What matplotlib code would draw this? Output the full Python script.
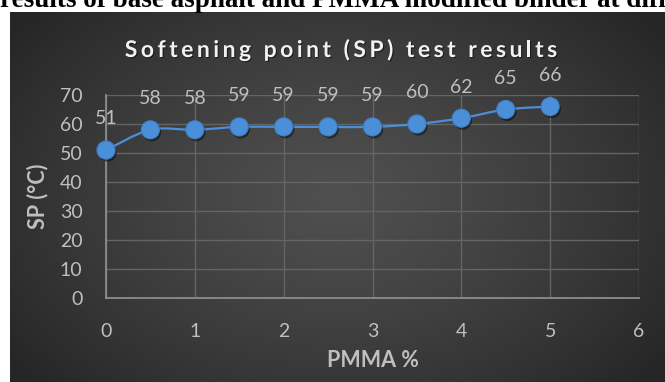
import numpy as np
import matplotlib
matplotlib.use("Agg")
import matplotlib.pyplot as plt
import matplotlib.patheffects as pe
from matplotlib.path import Path
from matplotlib.patches import PathPatch
from matplotlib import font_manager
from matplotlib.ft2font import FT2Font

# PMMA content (%) and softening point (°C)
pmma = [0, 0.5, 1, 1.5, 2, 2.5, 3, 3.5, 4, 4.5, 5]
sp = [51, 58, 58, 59, 59, 59, 59, 60, 62, 65, 66]
x_ticks = [0, 1, 2, 3, 4, 5, 6]
y_ticks = [0, 10, 20, 30, 40, 50, 60, 70]
title = "Softening point (SP) test results"
heading = "results of base asphalt and PMMA modified binder at different"

W, H, DPI = 665, 382, 100
fig = plt.figure(figsize=(W / DPI, H / DPI), dpi=DPI, facecolor="white")

FONT = "Lato"
GREY = "#bfbfbf"
BLUE = "#4a8fd8"

# caption line above the chart panel (partly outside the page)
fig.text(0 / W, 1 - 7 / H, heading, family="Liberation Serif", weight="bold",
         fontsize=19.5, color="black", ha="left", va="baseline")

# dark panel with a soft radial gradient
bg = fig.add_axes([10 / W, 0, (W - 10) / W, (H - 12) / H])
bg.set_axis_off()
ny, nx = 200, 360
yy, xx = np.mgrid[0:ny, 0:nx]
r = np.sqrt(((xx / (nx - 1) - 0.5) / 0.62) ** 2 + ((yy / (ny - 1) - 0.5) / 0.75) ** 2)
r = np.clip(r, 0, 1)
center_c, edge_c = 0.31, 0.15
shade = center_c + (edge_c - center_c) * r ** 1.3
bg.imshow(np.dstack([shade] * 3), aspect="auto", extent=[0, 1, 0, 1], interpolation="bilinear")
bg.set_xlim(0, 1)
bg.set_ylim(0, 1)

# plotting area
ax = fig.add_axes([106 / W, (H - 298) / H, (639 - 106) / W, (298 - 95) / H])
ax.patch.set_alpha(0)
ax.set_xlim(x_ticks[0], x_ticks[-1])
ax.set_ylim(y_ticks[0], y_ticks[-1])
ax.set_xticks(x_ticks)
ax.set_yticks(y_ticks)
ax.grid(True, color="#646464", lw=1.0)
ax.set_axisbelow(True)
for s in ["top", "right"]:
    ax.spines[s].set_visible(False)
for s in ["left", "bottom"]:
    ax.spines[s].set_color("#8c8c8c")
    ax.spines[s].set_linewidth(1.3)
ax.tick_params(length=0, colors=GREY, labelsize=14)
ax.tick_params(axis="x", pad=18)
ax.tick_params(axis="y", pad=17)
for lab in ax.get_xticklabels() + ax.get_yticklabels():
    lab.set_family(FONT)

# smoothed connecting line (Catmull-Rom style Bezier through the points)
P = np.column_stack([pmma, sp]).astype(float)
verts = [tuple(P[0])]
codes = [Path.MOVETO]
n = len(P)
for i in range(n - 1):
    p0 = P[i - 1] if i > 0 else P[i]
    p1, p2 = P[i], P[i + 1]
    p3 = P[i + 2] if i + 2 < n else P[i + 1]
    c1 = p1 + (p2 - p0) / 6.0
    c2 = p2 - (p3 - p1) / 6.0
    verts += [tuple(c1), tuple(c2), tuple(p2)]
    codes += [Path.CURVE4] * 3
ax.add_patch(PathPatch(Path(verts, codes), facecolor="none", edgecolor=BLUE, lw=1.6,
                       zorder=3, capstyle="round", joinstyle="round"))

mk, = ax.plot(pmma, sp, ls="none", marker="o", ms=13, mfc=BLUE, mec="#3f80c8",
              mew=0.8, zorder=4, clip_on=False)
mk.set_path_effects([pe.SimplePatchShadow(offset=(1.2, -1.8), shadow_rgbFace="black", alpha=0.45),
                     pe.Normal()])

for xv, yv in zip(pmma, sp):
    ax.annotate(f"{yv}", (xv, yv), xytext=(0, 18.5), textcoords="offset points",
                ha="center", va="baseline", fontsize=14, color=GREY, family=FONT)

ax.set_xlabel("PMMA %", family=FONT, weight="bold", fontsize=15.5, color=GREY)
ax.xaxis.set_label_coords((373 - 106) / (639 - 106), -(367 - 298) / (298 - 95))
ax.xaxis.label.set_va("baseline")
ax.set_ylabel("SP (°C)", family=FONT, weight="bold", fontsize=15.5, color=GREY)
ax.yaxis.set_label_coords(-(106 - 38) / (639 - 106), 0.5)
ax.yaxis.label.set_va("center")


# title with widened letter spacing, placed glyph by glyph
def tracked_text(s, cx, baseline, size, spacing_px, **kw):
    prop = font_manager.FontProperties(family=FONT, weight="bold", size=size)
    font = FT2Font(font_manager.findfont(prop))
    font.set_size(size, DPI)
    adv = []
    for ch in s:
        g = font.load_char(ord(ch))
        adv.append(g.linearHoriAdvance / 65536.0)
    total = sum(adv) + spacing_px * (len(s) - 1)
    x = cx - total / 2.0
    for ch, a in zip(s, adv):
        if ch != " ":
            t = fig.text(x / W, 1 - baseline / H, ch, fontproperties=prop,
                         ha="left", va="baseline", **kw)
            t.set_path_effects([pe.withSimplePatchShadow(offset=(0.8, -0.8), shadow_rgbFace="black",
                                                         alpha=0.5)])
        x += a + spacing_px


tracked_text(title, 341, 57, 16.5, 3.5, color="#f2f2f2")

fig.savefig("out.png", dpi=DPI, facecolor="white")
